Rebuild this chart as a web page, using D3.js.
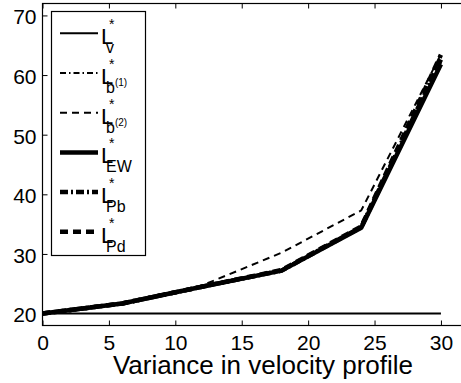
<!DOCTYPE html>
<html lang="en">
<head>
    <meta charset="utf-8">
    <title>Variance in velocity profile</title>
    <script src="https://d3js.org/d3.v7.min.js"></script>
    <style>
        body { margin: 0; background: #fff; }
        text { font-family: "Liberation Sans", Arial, sans-serif; fill: #000; }
    </style>
</head>
<body>
<div id="chart"></div>
<script>
    // values
    const variance = [0, 6, 12, 18, 24, 30];
    const Lv  = [20, 20, 20, 20, 20, 20];
    const Lb1 = [20, 21.7, 24.5, 27.2, 34.4, 62.0];
    const Lb2 = [20, 21.7, 24.7, 30.2, 37.3, 63.5];
    const LEW = [20, 21.7, 24.5, 27.2, 34.4, 61.8];
    const LPb = [20, 21.7, 24.5, 27.2, 34.5, 62.6];
    const LPd = [20, 21.7, 24.5, 27.3, 34.6, 63.4];

    const xTicks = [0, 5, 10, 15, 20, 25, 30];
    const yTicks = [20, 30, 40, 50, 60, 70];

    const series = [
        {sub: "v",  sup2: "",    values: Lv,  width: 2,   dash: null},
        {sub: "b",  sup2: "(1)", values: Lb1, width: 1.8, dash: "6,3,1.5,3"},
        {sub: "b",  sup2: "(2)", values: Lb2, width: 2,   dash: "7,5"},
        {sub: "EW", sup2: "",    values: LEW, width: 4.5, dash: null},
        {sub: "Pb", sup2: "",    values: LPb, width: 4.5, dash: "8,3,2,3"},
        {sub: "Pd", sup2: "",    values: LPd, width: 4.5, dash: "8,5"}
    ];

    const W = 461, H = 383;
    const svg = d3.select("#chart").append("svg")
        .attr("width", W).attr("height", H);

    const x = d3.scaleLinear().domain([0, 32]).range([42.5, 467.5]);
    const y = d3.scaleLinear().domain([18, 72]).range([325.5, 3.5]);

    // lines
    const line = d3.line()
        .x((d, i) => x(variance[i]))
        .y(d => y(d));

    series.forEach(s => {
        svg.append("path")
            .datum(s.values)
            .attr("d", line)
            .attr("fill", "none")
            .attr("stroke", "#000")
            .attr("stroke-width", s.width)
            .attr("stroke-linejoin", "round")
            .attr("stroke-dasharray", s.dash);
    });

    // axes box with inward ticks
    const x0 = x.range()[0], x1 = x.range()[1];
    const y0 = y.range()[0], y1 = y.range()[1];
    svg.append("rect")
        .attr("x", x0).attr("y", y1)
        .attr("width", x1 - x0).attr("height", y0 - y1)
        .attr("fill", "none").attr("stroke", "#000").attr("stroke-width", 1.2);

    const bottomAxis = svg.append("g")
        .attr("transform", `translate(0,${y0})`)
        .call(d3.axisBottom(x).tickValues(xTicks).tickSizeInner(-5).tickSizeOuter(0).tickPadding(10));
    const topAxis = svg.append("g")
        .attr("transform", `translate(0,${y1})`)
        .call(d3.axisTop(x).tickValues(xTicks).tickSizeInner(-5).tickSizeOuter(0).tickFormat(""));
    const leftAxis = svg.append("g")
        .attr("transform", `translate(${x0},0)`)
        .call(d3.axisLeft(y).tickValues(yTicks).tickSizeInner(-5).tickSizeOuter(0).tickPadding(6));

    [bottomAxis, topAxis, leftAxis].forEach(g => {
        g.select(".domain").remove();
        g.selectAll("line").attr("stroke", "#000").attr("stroke-width", 1);
        g.selectAll("text")
            .style("font-family", "'Liberation Sans', Arial, sans-serif")
            .style("font-size", "21px")
            .attr("fill", "#000");
    });
    leftAxis.selectAll("text").attr("dy", "0.4em");

    svg.append("text")
        .attr("x", 263).attr("y", 374)
        .attr("text-anchor", "middle")
        .style("font-size", "26px")
        .text("Variance in velocity profile");

    // legend
    const legend = svg.append("g");
    legend.append("rect")
        .attr("x", 51.5).attr("y", 11.5)
        .attr("width", 94).attr("height", 244)
        .attr("fill", "#fff").attr("stroke", "#000").attr("stroke-width", 1.2);

    series.forEach((s, i) => {
        const yc = 33.3 + i * 39.7;
        legend.append("line")
            .attr("x1", 60).attr("x2", 98)
            .attr("y1", yc).attr("y2", yc)
            .attr("stroke", "#000")
            .attr("stroke-width", s.width)
            .attr("stroke-dasharray", s.dash);
        // L^*_sub as one text element
        const t = legend.append("text")
            .attr("x", 101).attr("y", yc + 11);
        t.append("tspan").style("font-size", "22px").text("L");
        t.append("tspan")
            .attr("x", 109).attr("y", yc - 4)
            .style("font-size", "14px").text("*");
        t.append("tspan")
            .attr("x", 106).attr("y", yc + 20)
            .style("font-size", "16px").text(s.sub);
        if (s.sup2) {
            t.append("tspan")
                .attr("dy", -7)
                .style("font-size", "10px")
                .text(s.sup2);
        }
    });
</script>
</body>
</html>
